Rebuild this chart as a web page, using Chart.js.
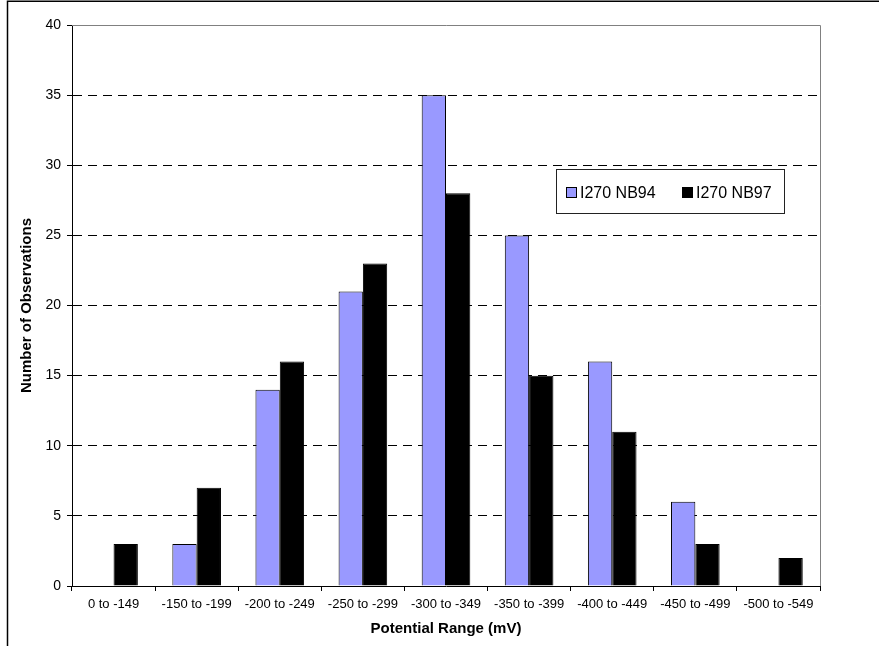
<!DOCTYPE html>
<html>
<head>
<meta charset="utf-8">
<script src="https://cdn.jsdelivr.net/npm/chart.js@4.4.1/dist/chart.umd.min.js"></script>
<style>
  html, body { margin: 0; padding: 0; background: #fff; }
  #wrap { position: relative; width: 879px; height: 646px; }
  canvas { position: absolute; left: 0; top: 0; }
  #legend { position: absolute; left: 556px; top: 169px; width: 227px; height: 43px;
            border: 1px solid #222; background: #fff; font-family: "Liberation Sans", Arial, sans-serif;
            font-size: 16px; color: #000; }
  .item { position: absolute; top: 0; height: 43px; line-height: 45px; white-space: nowrap; }
  .sw { position: absolute; top: 17px; width: 9px; height: 9px; border: 1px solid #000; }
  .lbl { position: absolute; left: 14px; top: 0; }
</style>
</head>
<body>
<div id="wrap">
  <canvas id="c" width="879" height="646"></canvas>
  <div id="legend"></div>
</div>
<script>
const categories = ["0 to -149", "-150 to -199", "-200 to -249", "-250 to -299", "-300 to -349",
                    "-350 to -399", "-400 to -449", "-450 to -499", "-500 to -549"];
const seriesNames = ["I270 NB94", "I270 NB97"];
const nb94 = [0, 3, 14, 21, 35, 25, 16, 6, 0];
const nb97 = [3, 7, 16, 23, 28, 15, 11, 3, 2];
const yMin = 0, yMax = 40, yStep = 5;
const xTitle = "Potential Range (mV)";
const yTitle = "Number of Observations";

const colors = ["#9999FF", "#000000"];
const FONT = '"Liberation Sans", Arial, sans-serif';

const framePlugin = {
  id: 'frame',
  afterDraw(chart) {
    const ctx = chart.ctx, a = chart.chartArea;
    ctx.save();
    // gray plot border (top + right)
    ctx.strokeStyle = '#808080';
    ctx.lineWidth = 1;
    ctx.beginPath();
    ctx.moveTo(a.left, Math.round(a.top) + 0.5);
    ctx.lineTo(Math.round(a.right) + 0.5, Math.round(a.top) + 0.5);
    ctx.lineTo(Math.round(a.right) + 0.5, a.bottom);
    ctx.stroke();
    // outer figure frame (top + left)
    ctx.strokeStyle = '#000';
    ctx.lineWidth = 1.5;
    ctx.beginPath();
    ctx.moveTo(879, 1.3);
    ctx.lineTo(7.5, 1.3);
    ctx.lineTo(7.5, 646);
    ctx.stroke();
    ctx.restore();
  }
};

const chart = new Chart(document.getElementById('c'), {
  type: 'bar',
  data: {
    labels: categories,
    datasets: [
      { label: seriesNames[0], data: nb94, backgroundColor: colors[0], borderColor: '#000', borderWidth: 1, borderSkipped: 'bottom' },
      { label: seriesNames[1], data: nb97, backgroundColor: colors[1], borderColor: '#000', borderWidth: 1, borderSkipped: 'bottom' }
    ]
  },
  options: {
    responsive: false,
    animation: false,
    devicePixelRatio: 1,
    layout: { padding: { left: 0, top: 25, right: 59, bottom: 0 } },
    datasets: { bar: { categoryPercentage: 0.585, barPercentage: 1.0 } },
    plugins: { legend: { display: false }, tooltip: { enabled: false } },
    scales: {
      x: {
        offset: true,
        grid: { offset: true, drawOnChartArea: false, drawTicks: true, tickLength: 5, color: '#000' },
        border: { display: true, color: '#000', width: 1 },
        ticks: { color: '#000', font: { family: FONT, size: 13 }, padding: 6, maxRotation: 0, autoSkip: false },
        title: { display: true, text: xTitle, color: '#000', font: { family: FONT, size: 15, weight: 'bold' }, padding: { top: 0, bottom: 8 } },
        afterFit(s) { s.height = 60; }
      },
      y: {
        min: yMin, max: yMax,
        ticks: { stepSize: yStep, color: '#000', font: { family: FONT, size: 14 }, padding: 6 },
        grid: { color: '#000', lineWidth: 1, drawTicks: true, tickLength: 5, tickColor: '#000', tickBorderDash: [] },
        border: { display: true, color: '#000', width: 1, dash: [9, 6] },
        title: { display: true, text: yTitle, color: '#000', font: { family: FONT, size: 15, weight: 'bold' }, padding: { top: 18, bottom: 0 } },
        afterFit(s) { s.width = 72; }
      }
    }
  },
  plugins: [framePlugin]
});

// HTML legend built from the dataset names/colours
const legend = document.getElementById('legend');
const itemLeft = [9, 125];
seriesNames.forEach((name, i) => {
  const it = document.createElement('div');
  it.className = 'item';
  it.style.left = itemLeft[i] + 'px';
  const sw = document.createElement('div');
  sw.className = 'sw';
  sw.style.background = colors[i];
  const lb = document.createElement('span');
  lb.className = 'lbl';
  lb.textContent = name;
  it.appendChild(sw); it.appendChild(lb);
  legend.appendChild(it);
});
</script>
</body>
</html>
